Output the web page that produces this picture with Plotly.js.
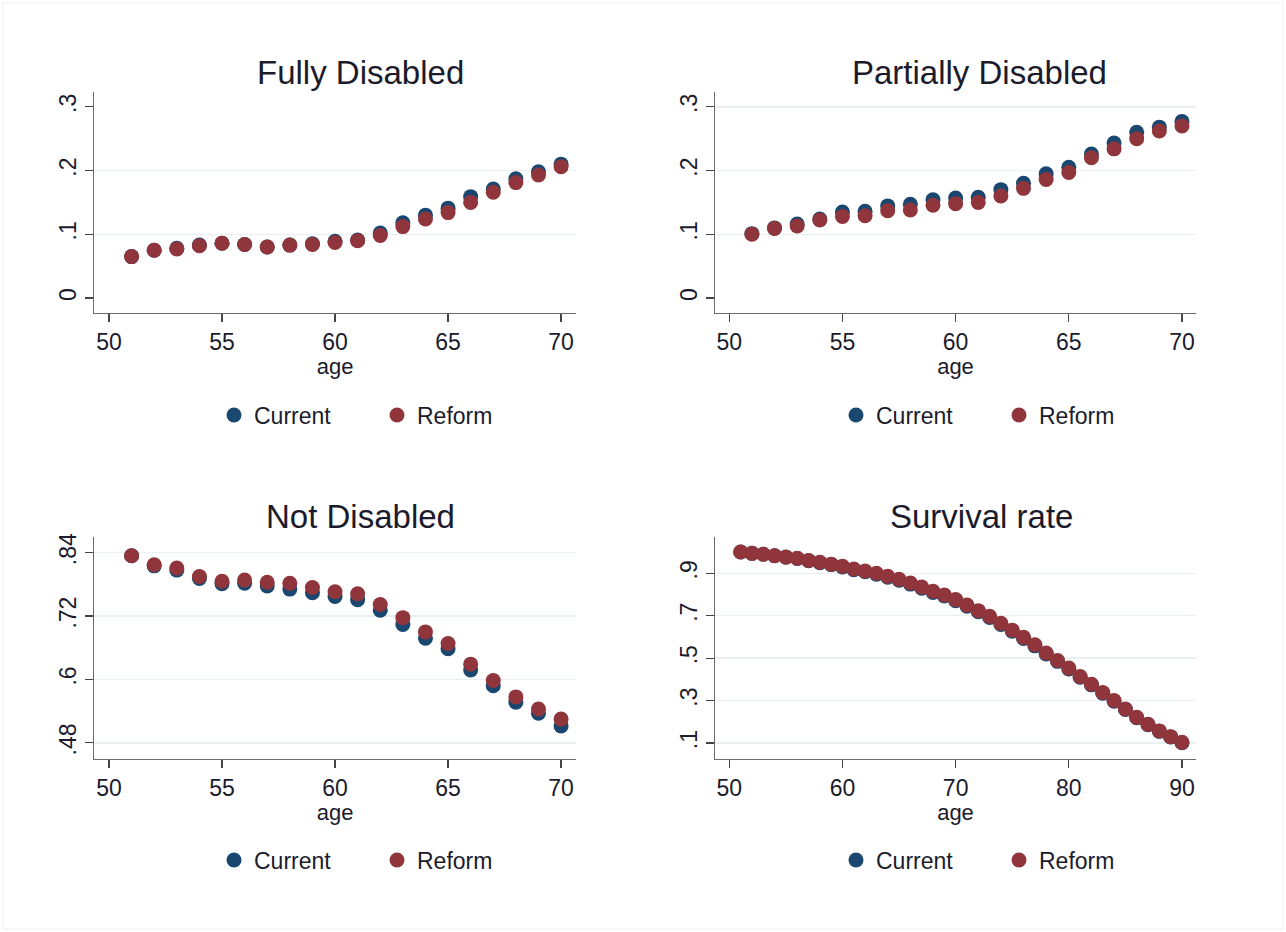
<!DOCTYPE html>
<html>
<head>
<meta charset="utf-8">
<script src="https://cdn.plot.ly/plotly-3.0.1.min.js"></script>
<style>
html,body{margin:0;padding:0;background:#fff;}
#chart{width:1286px;height:932px;}
</style>
</head>
<body>
<div id="chart"></div>
<script>
// ---------- data ----------
const ages20 = [51,52,53,54,55,56,57,58,59,60,61,62,63,64,65,66,67,68,69,70];
const ages40 = [51,52,53,54,55,56,57,58,59,60,61,62,63,64,65,66,67,68,69,70,
                71,72,73,74,75,76,77,78,79,80,81,82,83,84,85,86,87,88,89,90];

const fullyCurrent = [0.065,0.075,0.078,0.083,0.086,0.084,0.080,0.083,0.085,0.089,0.091,0.102,0.118,0.130,0.141,0.159,0.171,0.187,0.198,0.210];
const fullyReform  = [0.065,0.075,0.077,0.082,0.086,0.084,0.080,0.083,0.084,0.087,0.090,0.098,0.112,0.124,0.134,0.150,0.166,0.181,0.193,0.206];

const partCurrent = [0.101,0.110,0.116,0.124,0.135,0.136,0.1445,0.147,0.154,0.157,0.158,0.170,0.180,0.195,0.205,0.226,0.243,0.260,0.268,0.277];
const partReform  = [0.100,0.109,0.113,0.1225,0.128,0.129,0.137,0.138,0.1455,0.148,0.150,0.160,0.172,0.186,0.197,0.220,0.234,0.250,0.262,0.270];

const notCurrent = [0.834,0.815,0.807,0.791,0.781,0.782,0.777,0.771,0.764,0.757,0.751,0.731,0.704,0.678,0.658,0.618,0.588,0.557,0.536,0.512];
const notReform  = [0.834,0.817,0.811,0.795,0.786,0.788,0.784,0.782,0.774,0.766,0.762,0.742,0.717,0.690,0.668,0.629,0.598,0.567,0.544,0.525];

const survCurrent = [1.000,0.994,0.990,0.983,0.976,0.970,0.959,0.950,0.941,0.930,0.917,0.907,0.896,0.881,0.867,0.849,0.830,0.810,0.793,0.771,
                     0.745,0.719,0.692,0.659,0.627,0.593,0.558,0.520,0.485,0.449,0.410,0.374,0.335,0.297,0.258,0.219,0.186,0.155,0.128,0.101];
const survReform  = [1.000,0.994,0.990,0.983,0.977,0.971,0.960,0.952,0.943,0.933,0.920,0.911,0.900,0.886,0.872,0.854,0.835,0.815,0.798,0.776,
                     0.750,0.724,0.697,0.664,0.632,0.598,0.563,0.524,0.489,0.453,0.413,0.377,0.338,0.300,0.260,0.221,0.188,0.157,0.130,0.103];

const panelTitles = ["Fully Disabled","Partially Disabled","Not Disabled","Survival rate"];
const seriesNames = ["Current","Reform"];
const xTitle = "age";

const xTicks20 = [50,55,60,65,70];
const xTicks40 = [50,60,70,80,90];
const yTicksDis = [0,0.1,0.2,0.3];
const yTextDis = ["0",".1",".2",".3"];
const yTicksNot = [0.48,0.6,0.72,0.84];
const yTextNot = [".48",".6",".72",".84"];
const yTicksSurv = [0.1,0.3,0.5,0.7,0.9];
const yTextSurv = [".1",".3",".5",".7",".9"];
const grid1 = [0.1,0.2];
const grid2 = [0.1,0.2,0.3];

// ---------- styling ----------
const cCur = "#1a476f", cRef = "#90353b";
const FONT = "Liberation Sans, Arial, sans-serif";
const txtColor = "#1b1b2b";
const W = 1286, H = 932;
const px = v => v / W, py = v => 1 - v / H;

function trace(x, y, name, color, n, showleg) {
  const sfx = n === 1 ? "" : String(n);
  return {
    x: x, y: y, type: "scatter", mode: "markers", name: name,
    xaxis: "x" + sfx, yaxis: "y" + sfx,
    legend: "legend" + sfx,
    marker: {color: color, size: 15, line: {width: 0}},
    showlegend: showleg, hoverinfo: "x+y"
  };
}

const data = [
  trace(ages20, fullyCurrent, seriesNames[0], cCur, 1, true),
  trace(ages20, fullyReform,  seriesNames[1], cRef, 1, true),
  trace(ages20, partCurrent,  seriesNames[0], cCur, 2, true),
  trace(ages20, partReform,   seriesNames[1], cRef, 2, true),
  trace(ages20, notCurrent,   seriesNames[0], cCur, 3, true),
  trace(ages20, notReform,    seriesNames[1], cRef, 3, true),
  trace(ages40, survCurrent,  seriesNames[0], cCur, 4, true),
  trace(ages40, survReform,   seriesNames[1], cRef, 4, true)
];

function xAxis(dom, range, ticks, anchor) {
  return {
    domain: dom, range: range, anchor: anchor,
    tickvals: ticks, ticktext: ticks.map(String),
    showline: true, linecolor: "#6a6a6a", linewidth: 1.2,
    ticks: "outside", ticklen: 8, tickcolor: "#444", tickwidth: 1.2,
    showgrid: false, zeroline: false,
    tickfont: {family: FONT, size: 23, color: txtColor},
    title: {text: xTitle, font: {family: FONT, size: 22, color: txtColor}, standoff: 3}
  };
}
function yAxis(dom, range, ticks, texts, grid, anchor) {
  return {
    domain: dom, range: range, anchor: anchor,
    tickvals: ticks, ticktext: texts, tickangle: -90,
    showline: true, linecolor: "#6a6a6a", linewidth: 1.2,
    ticks: "outside", ticklen: 8, tickcolor: "#444", tickwidth: 1.2,
    showgrid: false, zeroline: false,
    minor: {tickvals: grid, showgrid: true, gridcolor: "#e8f0f2", gridwidth: 1.5, ticks: ""},
    tickfont: {family: FONT, size: 23, color: txtColor}
  };
}

const xdL = [px(94.3), px(576)], xdR = [px(715), px(1196)];
const ydT = [py(312.7), py(91.7)], ydB = [py(758.7), py(536.8)];

function leg(xc, yc) {
  return {
    x: px(xc), y: py(yc), xanchor: "center", yanchor: "middle",
    orientation: "h", bgcolor: "rgba(0,0,0,0)",
    entrywidth: 118, entrywidthmode: "pixels",
    font: {family: FONT, size: 23, color: txtColor},
    itemclick: false, itemdoubleclick: false
  };
}

function ttl(text, xc, yc) {
  return {text: text, x: px(xc), y: py(yc), xref: "paper", yref: "paper",
          xanchor: "center", yanchor: "middle", showarrow: false,
          font: {family: FONT, size: 33, color: txtColor}};
}

const layout = {
  width: W, height: H,
  margin: {l: 0, r: 0, t: 0, b: 0},
  paper_bgcolor: "#ffffff", plot_bgcolor: "#ffffff",
  showlegend: true,
  xaxis:  xAxis(xdL, [49.35, 70.66], xTicks20, "y"),
  yaxis:  yAxis(ydT, [-0.023, 0.3236], yTicksDis, yTextDis, grid1, "x"),
  xaxis2: xAxis(xdR, [49.37, 70.62], xTicks20, "y2"),
  yaxis2: yAxis(ydT, [-0.023, 0.3236], yTicksDis, yTextDis, grid2, "x2"),
  xaxis3: xAxis(xdL, [49.35, 70.66], xTicks20, "y3"),
  yaxis3: yAxis(ydB, [0.450, 0.870], yTicksNot, yTextNot, yTicksNot, "x3"),
  xaxis4: xAxis(xdR, [48.73, 91.24], xTicks40, "y4"),
  yaxis4: yAxis(ydB, [0.026, 1.072], yTicksSurv, yTextSurv, yTicksSurv, "x4"),
  legend:  leg(377, 415),
  legend2: leg(999, 415),
  legend3: leg(377, 860),
  legend4: leg(999, 860),
  annotations: [
    ttl(panelTitles[0], 360, 72),
    ttl(panelTitles[1], 980, 72),
    ttl(panelTitles[2], 360, 516),
    ttl(panelTitles[3], 981, 516)
  ],
  shapes: [
    {type: "rect", xref: "paper", yref: "paper", x0: px(3), x1: px(1283), y0: py(929), y1: py(3),
     line: {color: "#eeeeee", width: 1}, fillcolor: "rgba(0,0,0,0)", layer: "below"}
  ]
};

Plotly.newPlot("chart", data, layout, {displayModeBar: false, staticPlot: true});
</script>
</body>
</html>
